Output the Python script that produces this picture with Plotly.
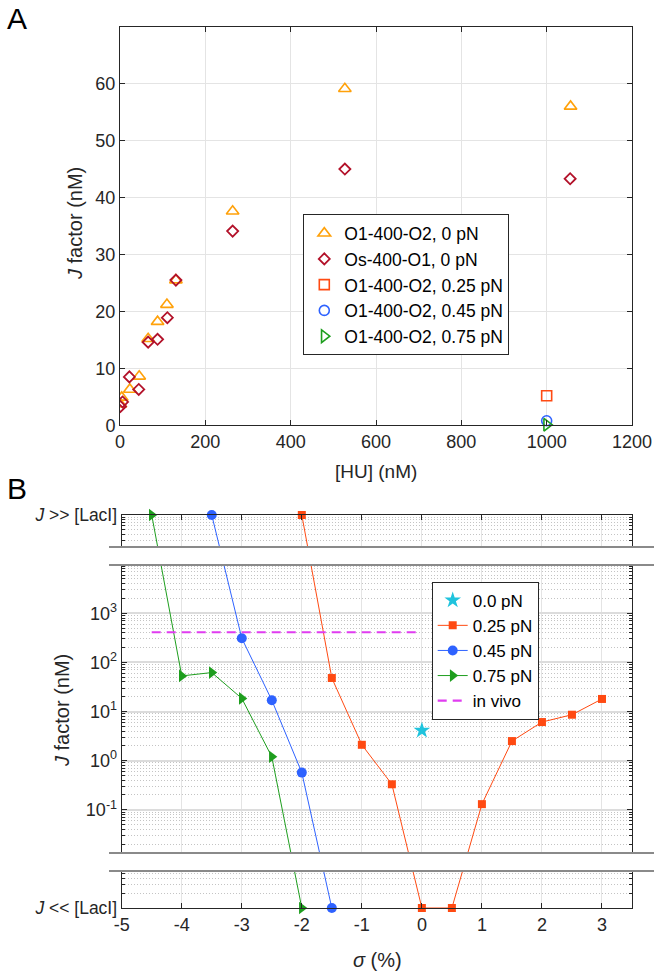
import plotly.graph_objects as go

W, H = 661, 979
FONT = "Liberation Sans, Arial, sans-serif"
AXC = "#262626"

# ---------------- Panel A data ----------------
hu_o1o2 = [1, 4, 23, 45, 66, 88, 110, 131, 264, 527, 1056]
j_o1o2 = [3.7, 4.9, 6.3, 8.6, 15.2, 18.2, 21.2, 25.5, 37.6, 59.1, 56.0]
hu_oso1 = [1, 6, 22, 44, 66, 88, 111, 131, 264, 527, 1055]
j_oso1 = [3.3, 4.1, 8.5, 6.3, 14.6, 15.1, 18.9, 25.5, 34.1, 45.0, 43.3]
hu_force = [1000]
j_force_025 = [5.2]
j_force_045 = [0.8]
j_force_075 = [0.1]
hu_ticks = [0, 200, 400, 600, 800, 1000, 1200]
ja_ticks = [0, 10, 20, 30, 40, 50, 60]

# ---------------- Panel B data ----------------
J_HIGH = 1e5   # stands for "J >> [LacI]"
J_LOW = 1e-3   # stands for "J << [LacI]"
sigma_000 = [0]
j_000 = [4.1]
sigma_025 = [-2, -1.5, -1, -0.5, 0, 0.5, 1, 1.5, 2, 2.5, 3]
j_025 = [J_HIGH, 48, 2.1, 0.33, J_LOW, J_LOW, 0.13, 2.5, 6.1, 8.6, 18]
sigma_045 = [-3.5, -3, -2.5, -2, -1.5]
j_045 = [J_HIGH, 310, 17, 0.57, J_LOW]
sigma_075 = [-4.5, -4, -3.5, -3, -2.5, -2]
j_075 = [J_HIGH, 53, 62, 18.5, 1.2, J_LOW]
sigma_vivo = [-4.5, -0.1]
j_vivo = [410, 410]
sigma_ticks = [-5, -4, -3, -2, -1, 0, 1, 2, 3]
sigma_ticklabels = ["-5", "-4", "-3", "-2", "-1", "0", "1", "2", "3"]
jb_ticks = [J_LOW, 1e-1, 1e0, 1e1, 1e2, 1e3, J_HIGH]
jb_ticklabels = [
    '<span style="font-size:17.5px"><i>J</i> &lt;&lt; [LacI]</span>',
    "10<sup>-1</sup>", "10<sup>0</sup>", "10<sup>1</sup>",
    "10<sup>2</sup>", "10<sup>3</sup>",
    '<span style="font-size:17.5px"><i>J</i> &gt;&gt; [LacI]</span>',
]

C_ORANGE = "#FFA10A"
C_DRED = "#B3122A"
C_RED = "#FF4A12"
C_BLUE = "#2E62FF"
C_GREEN = "#1E9E1E"
C_CYAN = "#1FC3DD"
C_MAG = "#E03CF0"


def px_x(p):
    return p / W


def px_y(p):
    return 1 - p / H


fig = go.Figure()

# ---- Panel A ----
fig.add_trace(go.Scatter(x=hu_o1o2, y=j_o1o2, mode="markers", name="O1-400-O2, 0 pN",
                         marker=dict(symbol="triangle-up-open", size=11, color=C_ORANGE,
                                     line=dict(width=1.6)),
                         xaxis="x", yaxis="y", legend="legend"))
fig.add_trace(go.Scatter(x=hu_oso1, y=j_oso1, mode="markers", name="Os-400-O1, 0 pN",
                         marker=dict(symbol="diamond-open", size=8.5, color=C_DRED,
                                     line=dict(width=1.8)),
                         xaxis="x", yaxis="y", legend="legend"))
fig.add_trace(go.Scatter(x=hu_force, y=j_force_025, mode="markers", name="O1-400-O2, 0.25 pN",
                         marker=dict(symbol="square-open", size=10, color=C_RED,
                                     line=dict(width=1.6)),
                         xaxis="x", yaxis="y", legend="legend", cliponaxis=False))
fig.add_trace(go.Scatter(x=hu_force, y=j_force_045, mode="markers", name="O1-400-O2, 0.45 pN",
                         marker=dict(symbol="circle-open", size=10, color=C_BLUE,
                                     line=dict(width=1.6)),
                         xaxis="x", yaxis="y", legend="legend", cliponaxis=False))
fig.add_trace(go.Scatter(x=hu_force, y=j_force_075, mode="markers", name="O1-400-O2, 0.75 pN",
                         marker=dict(symbol="triangle-right-open", size=11, color=C_GREEN,
                                     line=dict(width=1.6)),
                         xaxis="x", yaxis="y", legend="legend", cliponaxis=False))

# ---- Panel B ----
fig.add_trace(go.Scatter(x=sigma_000, y=j_000, mode="markers", name="0.0 pN",
                         marker=dict(symbol="star", size=12.5, color=C_CYAN, line=dict(width=0)),
                         xaxis="x2", yaxis="y2", legend="legend2"))
fig.add_trace(go.Scatter(x=sigma_025, y=j_025, mode="lines+markers", name="0.25 pN",
                         line=dict(color=C_RED, width=1),
                         marker=dict(symbol="square", size=8, color=C_RED),
                         xaxis="x2", yaxis="y2", legend="legend2", cliponaxis=False))
fig.add_trace(go.Scatter(x=sigma_045, y=j_045, mode="lines+markers", name="0.45 pN",
                         line=dict(color=C_BLUE, width=1),
                         marker=dict(symbol="circle", size=10, color=C_BLUE),
                         xaxis="x2", yaxis="y2", legend="legend2", cliponaxis=False))
fig.add_trace(go.Scatter(x=sigma_075, y=j_075, mode="lines+markers", name="0.75 pN",
                         line=dict(color=C_GREEN, width=1),
                         marker=dict(symbol="triangle-right", size=11, color=C_GREEN),
                         xaxis="x2", yaxis="y2", legend="legend2", cliponaxis=False))
fig.add_trace(go.Scatter(x=sigma_vivo, y=j_vivo, mode="lines", name="in vivo",
                         line=dict(color=C_MAG, width=2.2, dash="9px,6px"),
                         xaxis="x2", yaxis="y2", legend="legend2"))

common = dict(showline=True, linecolor=AXC, linewidth=1, mirror="ticks",
              ticks="inside", ticklen=5, tickcolor=AXC, tickwidth=1,
              tickfont=dict(family=FONT, size=18, color=AXC),
              showgrid=True, gridcolor="#e4e4e4", gridwidth=1,
              zeroline=False, automargin=False)

minor_vals = [m * 10 ** k for k in range(-3, 5) for m in range(2, 10)]

fig.update_layout(
    width=W, height=H,
    margin=dict(l=0, r=0, t=0, b=0),
    paper_bgcolor="white", plot_bgcolor="white",
    font=dict(family=FONT, color=AXC),
    xaxis=dict(domain=[px_x(120), px_x(632)], range=[0, 1200], tickvals=hu_ticks,
               anchor="y", **common),
    yaxis=dict(domain=[px_y(425.3), px_y(26.7)], range=[0, 70], tickvals=ja_ticks,
               anchor="x", **common),
    xaxis2=dict(domain=[px_x(121.7), px_x(632)], range=[-5, 3.5], tickvals=sigma_ticks,
                ticktext=sigma_ticklabels, anchor="y2", **common),
    yaxis2=dict(domain=[px_y(908), px_y(515)], type="log", range=[-3, 5],
                tickvals=jb_ticks, ticktext=jb_ticklabels, anchor="x2",
                minor=dict(tickmode="array", tickvals=minor_vals, ticks="inside",
                           ticklen=3, tickcolor=AXC, showgrid=True,
                           gridcolor="#c4c4c4", griddash="1px,2px", gridwidth=1),
                **{**common, "gridcolor": "#dcdcdc", "gridwidth": 1.5}),
    legend=dict(x=px_x(303.3), y=px_y(214.3), xanchor="left", yanchor="top",
                bordercolor=AXC, borderwidth=1, bgcolor="white",
                font=dict(family=FONT, size=17.5, color="black"), tracegroupgap=0),
    legend2=dict(x=px_x(431.7), y=px_y(581.7), xanchor="left", yanchor="top",
                 bordercolor=AXC, borderwidth=1, bgcolor="white",
                 font=dict(family=FONT, size=17, color="black"), tracegroupgap=0),
    showlegend=True,
)

# axis-break masks and break lines
shapes = []
for top, bot in [(547, 565), (853, 871)]:
    shapes.append(dict(type="rect", xref="paper", yref="paper",
                       x0=px_x(109), x1=px_x(654), y0=px_y(bot), y1=px_y(top),
                       fillcolor="white", line=dict(width=0), layer="above"))
    for yy in (top, bot):
        shapes.append(dict(type="line", xref="paper", yref="paper",
                           x0=px_x(109), x1=px_x(654), y0=px_y(yy), y1=px_y(yy),
                           line=dict(color="#8a8a8a", width=2), layer="above"))
fig.update_layout(shapes=shapes)

ann = [
    dict(text="A", x=px_x(17), y=px_y(19), font=dict(size=30, color="black")),
    dict(text="B", x=px_x(17), y=px_y(488), font=dict(size=30, color="black")),
    dict(text="<i>J</i> factor (nM)", x=px_x(75), y=px_y(224), textangle=-90,
         font=dict(size=20, color=AXC)),
    dict(text="[HU] (nM)", x=px_x(376), y=px_y(471), font=dict(size=19, color=AXC)),
    dict(text="<i>J</i> factor (nM)", x=px_x(62), y=px_y(711), textangle=-90,
         font=dict(size=20, color=AXC)),
    dict(text="<i>σ</i> (%)", x=px_x(377), y=px_y(960), font=dict(size=20, color=AXC)),
]
for a in ann:
    a.update(xref="paper", yref="paper", showarrow=False, xanchor="center", yanchor="middle")
    a["font"]["family"] = FONT
fig.update_layout(annotations=ann)

fig.write_html("out.html", config={"displayModeBar": False},
               post_script="document.body.style.margin='0';document.body.style.overflow='hidden';")
